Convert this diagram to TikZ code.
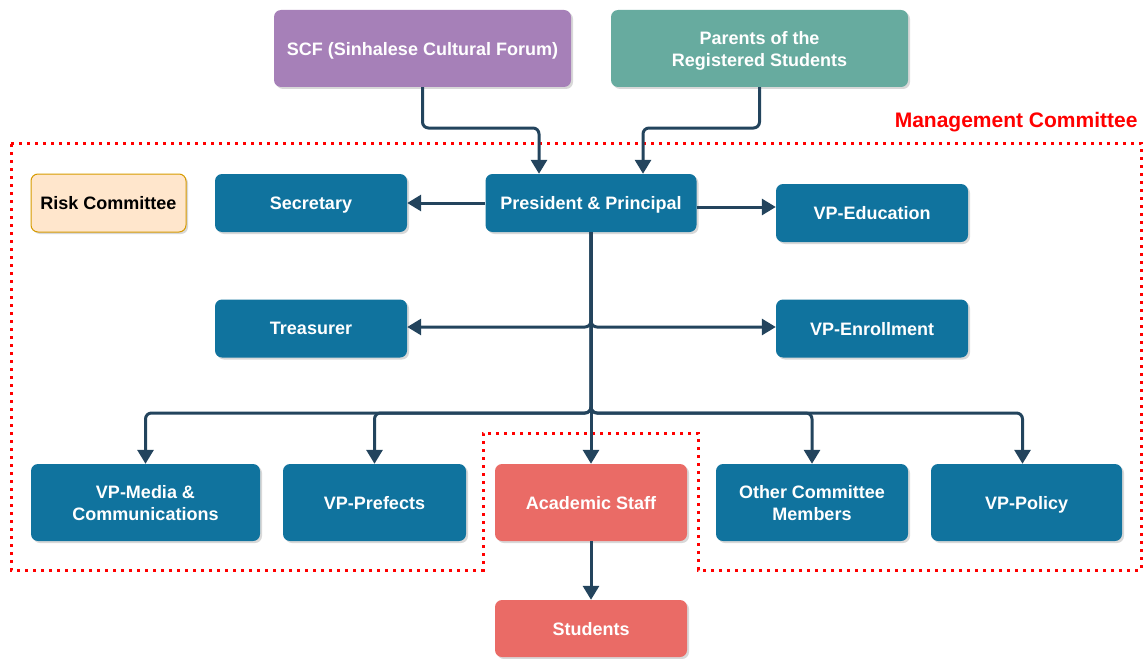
\documentclass[tikz,border=0pt]{standalone}
\usepackage{fontspec}
\setmainfont{Liberation Sans}
\usetikzlibrary{arrows.meta,shadows}

\definecolor{boxblue}{HTML}{10739E}
\definecolor{linkblue}{HTML}{23445D}
\definecolor{scfpurple}{HTML}{A680B8}
\definecolor{parentgreen}{HTML}{67AB9F}
\definecolor{staffred}{HTML}{EA6B66}
\definecolor{riskfill}{HTML}{FFE6CC}
\definecolor{riskline}{HTML}{D79B00}

\tikzset{
  unit/.style={rounded corners=7pt, text=white, align=center, inner sep=0pt,
    text depth=0pt, font=\bfseries\fontsize{18}{22}\selectfont,
    drop shadow={shadow xshift=2pt, shadow yshift=-2pt, fill=black!30}},
  role/.style={unit, fill=boxblue, minimum width=192pt, minimum height=58pt},
  link/.style={draw=linkblue, line width=3pt, rounded corners=6pt,
    -{Triangle[length=14pt,width=16pt]}},
  frame/.style={draw=red, line width=3pt, dash pattern=on 3pt off 5pt},
}

\begin{document}
\begin{tikzpicture}[x=1pt,y=-1pt]
        \useasboundingbox (0,0) rectangle (1147,658);
        % management committee outline
        \draw[frame] (11,143) -- (1141,143) -- (1141,570) -- (698,570) -- (698,433)
            -- (483,433) -- (483,570) -- (11,570) -- cycle;
        \node[text=red, anchor=east, font=\bfseries\fontsize{21}{25}\selectfont] (mgmt) at (1141,122) {Management Committee};
        % top level
        \node[unit, fill=scfpurple, minimum width=297pt, minimum height=77pt] (scf) at (422.5,48.5) {SCF (Sinhalese Cultural Forum)};
        \node[unit, fill=parentgreen, minimum width=297pt, minimum height=77pt] (parents) at (759.5,48.5) {Parents of the\\Registered Students};
        % committee
        \node[unit, fill=riskfill, draw=riskline, line width=1pt, text=black, minimum width=155pt, minimum height=58pt] (risk) at (108.5,203) {Risk Committee};
        \node[role] (secretary) at (311,203) {Secretary};
        \node[role, minimum width=211pt] (president) at (591,203) {President \& Principal};
        \node[role] (vpedu) at (872,213) {VP-Education};
        \node[role] (treasurer) at (311,328.5) {Treasurer};
        \node[role] (vpenrol) at (872,328.5) {VP-Enrollment};
        \node[role, minimum width=229pt, minimum height=77pt] (vpmedia) at (145.5,502.5) {VP-Media \&\\Communications};
        \node[role, minimum width=183pt, minimum height=77pt] (vpprefect) at (374.5,502.5) {VP-Prefects};
        \node[role, fill=staffred, minimum height=77pt] (staff) at (591,502.5) {Academic Staff};
        \node[role, minimum height=77pt] (others) at (812,502.5) {Other Committee\\Members};
        \node[role, minimum width=191pt, minimum height=77pt] (vppolicy) at (1026.5,502.5) {VP-Policy};
        \node[role, fill=staffred, minimum height=57pt] (students) at (591,628.5) {Students};
        % links
        \coordinate (joinL) at (539,128);
        \coordinate (joinR) at (643,128);
        \coordinate (split1) at (591,327);
        \coordinate (split2) at (591,413);
        \draw[link] (scf.south) |- (joinL) -- (joinL |- president.north);
        \draw[link] (parents.south) |- (joinR) -- (joinR |- president.north);
        \draw[link] (president.west) -- (secretary.east);
        \draw[link] ([yshift=-4pt]president.east) -- ([yshift=-4pt]president.east -| vpedu.west);
        \draw[link] (president.south) -- (split1) -- (split1 -| treasurer.east);
        \draw[link] (president.south) -- (split1) -- (split1 -| vpenrol.west);
        \draw[link] (president.south) -- (split2) -| (vpmedia.north);
        \draw[link] (president.south) -- (split2) -| (vpprefect.north);
        \draw[link] (president.south) -- (split2) -| (others.north);
        \draw[link] (president.south) -- (split2) -| ([xshift=-4pt]vppolicy.north);
        \draw[link] (president.south) -- (staff.north);
        \draw[link] (staff.south) -- (students.north);
    \end{tikzpicture}
\end{document}
